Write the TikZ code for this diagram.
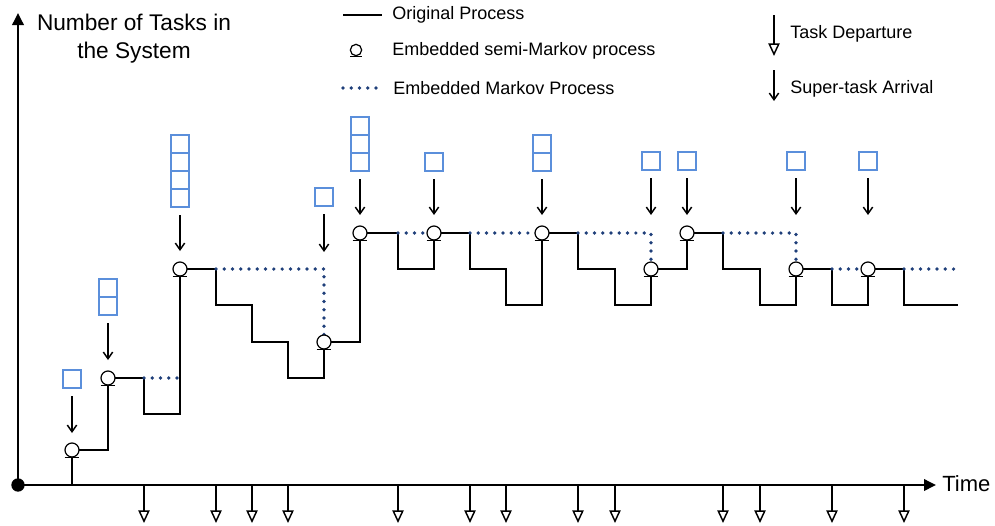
\documentclass[tikz,border=0pt]{standalone}
\usepackage{fontspec}
\setmainfont{Liberation Sans}
\usetikzlibrary{arrows.meta}
\definecolor{boxblue}{HTML}{5B8FDB}
\definecolor{dotblue}{HTML}{1F3F7A}
\begin{document}
\begin{tikzpicture}[x=0.75pt,y=-0.75pt,
  stepline/.style={line width=1.1pt,black},
  axisline/.style={line width=1.8pt,-{Triangle[length=9pt,width=8.5pt]}},
  markov/.style={dotblue,line width=2.8pt,line cap=round,dash pattern=on 0pt off 6.2pt},
  smp/.style={circle,draw,fill=white,line width=0.9pt,minimum size=10.5pt,inner sep=0pt},
  arrival/.style={line width=1.1pt,-{Straight Barb[length=5pt,width=7pt]}},
  departure/.style={line width=1.1pt,-{Triangle[open,length=9.5pt,width=8.5pt]}},
  taskbox/.style={draw=boxblue,line width=1.1pt},
  lbl/.style={font=\fontsize{13.5}{16}\selectfont,anchor=west,inner sep=0pt}
]
\useasboundingbox (0,0) rectangle (995,525);

% axes
\coordinate (O) at (18,485);
\coordinate (ytop) at (18,13);
\coordinate (xend) at (936,485);
\draw[axisline] (O) -- (ytop);
\draw[axisline] (O) -- (xend);
\fill (O) circle (5pt);
\node[align=center,font=\fontsize{17}{21}\selectfont] (ylab) at (134,39) {Number of Tasks in\\the System};
\node[font=\fontsize{16.5}{20}\selectfont,anchor=west,inner sep=0pt] (tlab) at (942,484) {Time};

% task departures below the time axis
\foreach \x [count=\i] in {144,216,252,288,398,470,506,578,615,723,760,832,904} {
  \coordinate (d\i) at (\x,485);
  \coordinate (dt\i) at (\x,523);
  \draw[departure] (d\i) -- (dt\i);
}

% original process
\draw[stepline] (72,485) -- (72,450) -- (108,450) -- (108,378) -- (144,378) -- (144,414)
  -- (180,414) -- (180,269) -- (216,269) -- (216,305) -- (252,305) -- (252,342)
  -- (288,342) -- (288,378) -- (324,378) -- (324,342) -- (360,342) -- (360,233)
  -- (398,233) -- (398,269) -- (434,269) -- (434,233) -- (470,233) -- (470,269)
  -- (506,269) -- (506,305) -- (542,305) -- (542,233) -- (578,233) -- (578,269)
  -- (615,269) -- (615,305) -- (651,305) -- (651,269) -- (687,269) -- (687,233)
  -- (723,233) -- (723,269) -- (760,269) -- (760,305) -- (796,305) -- (796,269)
  -- (832,269) -- (832,305) -- (868,305) -- (868,269) -- (904,269) -- (904,305)
  -- (958,305);

% embedded Markov process
\draw[markov] (144,378) -- (180,378);
\draw[markov] (216,269) -- (324,269) -- (324,342);
\draw[markov] (398,233) -- (434,233);
\draw[markov] (470,233) -- (542,233);
\draw[markov] (578,233) -- (651,233) -- (651,269);
\draw[markov] (723,233) -- (796,233) -- (796,269);
\draw[markov] (832,269) -- (868,269);
\draw[markov] (904,269) -- (958,269);

% super-task arrivals: point, boxes, arrow start, arrow end
\foreach \x/\y/\n/\t/\e [count=\i] in {
    72/450/1/396/433, 108/378/2/323/360, 180/269/4/215/251, 324/342/1/214/252,
    360/233/3/179/215, 434/233/1/179/215, 542/233/2/179/215, 651/269/1/178/215,
    687/233/1/178/215, 796/269/1/178/215, 868/269/1/178/215} {
  \node[smp] (c\i) at (\x,\y) {};
  \draw[line width=0.9pt] ([xshift=-5.5pt]c\i.south) -- ([xshift=5.5pt]c\i.south);
  \coordinate (as\i) at (\x,\t);
  \coordinate (ae\i) at (\x,\e);
  \draw[arrival] (as\i) -- (ae\i);
  \foreach \k in {1,...,\n} {
    \draw[taskbox] ({\x-9},{\t-8-18*\k}) rectangle ({\x+9},{\t-8-18*(\k-1)});
  }
}

% legend
\coordinate (l1a) at (343,15); \coordinate (l1b) at (382,15);
\draw[stepline] (l1a) -- (l1b);
\node[lbl] (t1) at (392,15) {Original Process};
\node[smp,minimum size=8.5pt] (lc) at (356,50) {};
\draw[line width=0.9pt] ([xshift=-4.5pt]lc.south) -- ([xshift=4.5pt]lc.south);
\node[lbl] (t2) at (392,51) {Embedded semi-Markov process};
\coordinate (l3a) at (343,88); \coordinate (l3b) at (378,88);
\draw[markov] (l3a) -- (l3b);
\node[lbl] (t3) at (393,88) {Embedded Markov Process};
\coordinate (l4a) at (774,15); \coordinate (l4b) at (774,56);
\draw[departure] (l4a) -- (l4b);
\node[lbl] (t4) at (790,34) {Task Departure};
\coordinate (l5a) at (774,70); \coordinate (l5b) at (774,101);
\draw[arrival] (l5a) -- (l5b);
\node[lbl] (t5) at (790,89) {Super-task Arrival};
\end{tikzpicture}
\end{document}
